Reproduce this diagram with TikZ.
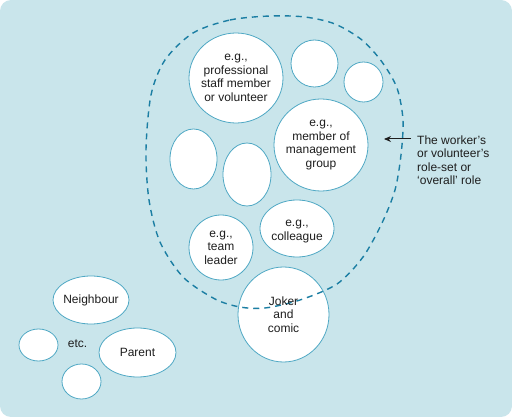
\documentclass[tikz,border=0pt]{standalone}
\usepackage{fontspec}
\setmainfont{Liberation Sans}
\usetikzlibrary{arrows.meta,shapes.geometric}
\definecolor{cBack}{HTML}{C9E5EB}
\definecolor{cRim}{HTML}{4FA8C4}
\definecolor{cDash}{HTML}{1B7EA3}
\definecolor{cInk}{HTML}{1E1E1E}
\tikzset{
  >=Stealth,
  role/.style  ={ellipse,draw=cRim,fill=white,line width=0.8pt,inner sep=0pt},
  rtxt/.style  ={align=center,text=cInk,inner sep=0pt,
                 font=\fontsize{12}{13.5}\selectfont},
  dashline/.style={draw=cDash,line width=1.4pt,dash pattern=on 6pt off 5pt},
  ar/.style    ={-{Stealth[length=7pt,width=6pt]},line width=1pt,cInk},
}
\begin{document}
\begin{tikzpicture}[x=1pt,y=-1pt]
\useasboundingbox (0,0) rectangle (512,417);
\fill[white] (0,0) rectangle (512,417);
\fill[cBack,rounded corners=11pt] (0,0) rectangle (512,417);

% roles inside the role-set
\node[role,minimum width=94pt,minimum height=90pt] (prof) at (236,78) {};
\node[role,minimum width=47pt,minimum height=47pt] (sma) at (314.5,63.5) {};
\node[role,minimum width=39pt,minimum height=40pt] (smb) at (363.5,82) {};
\node[role,minimum width=94pt,minimum height=92pt] (mgmt) at (321,145) {};
\node[role,minimum width=47pt,minimum height=60pt] (ovla) at (193.5,159) {};
\node[role,minimum width=48pt,minimum height=63pt] (ovlb) at (247,174.5) {};
\node[role,minimum width=64pt,minimum height=65pt] (lead) at (221,247.5) {};
\node[role,minimum width=74pt,minimum height=57pt] (coll) at (297,228.5) {};
\node[role,minimum width=91pt,minimum height=95pt] (joker) at (283.5,314.5) {};

% roles outside
\node[role,minimum width=76pt,minimum height=48pt] (neigh) at (91,300) {};
\node[role,minimum width=39pt,minimum height=32pt] (smc) at (38.5,345) {};
\node[role,minimum width=77pt,minimum height=49pt] (parent) at (137.5,352.5) {};
\node[role,minimum width=39pt,minimum height=35pt] (smd) at (81.5,381.5) {};

% the role-set boundary
\draw[dashline] plot[smooth cycle] coordinates {
  (193,33) (230,20) (270,16) (305,17) (335,24) (362,40) (382,62) (397,88)
  (403,120) (401,155) (395,190) (382,223) (363,257) (337,284) (300,300)
  (265,308) (240,307) (215,299) (183,277) (160,242) (149,200) (146,150)
  (151,95) (165,60)};

\node[rtxt] at (prof.center) {e.g.,\\professional\\staff member\\or volunteer};
\node[rtxt] at (mgmt.center) {e.g.,\\member of\\management\\group};
\node[rtxt] at (lead.center) {e.g.,\\team\\leader};
\node[rtxt] at ([yshift=-3pt]coll.center) {e.g.,\\colleague};
\node[rtxt] at (joker.center) {Joker\\and\\comic};
\node[rtxt] at (neigh.center) {Neighbour};
\node[rtxt] at (parent.center) {Parent};
\node[rtxt] (etc) at (77.5,344) {etc.};

\node[rtxt,align=left,anchor=west] (rolelbl) at (417,160)
  {The worker’s\\or volunteer’s\\role-set or\\‘overall’ role};
\coordinate (arrhead) at (384,139);
\draw[ar] ([xshift=-6pt]rolelbl.west |- arrhead) -- (arrhead);
\end{tikzpicture}
\end{document}
